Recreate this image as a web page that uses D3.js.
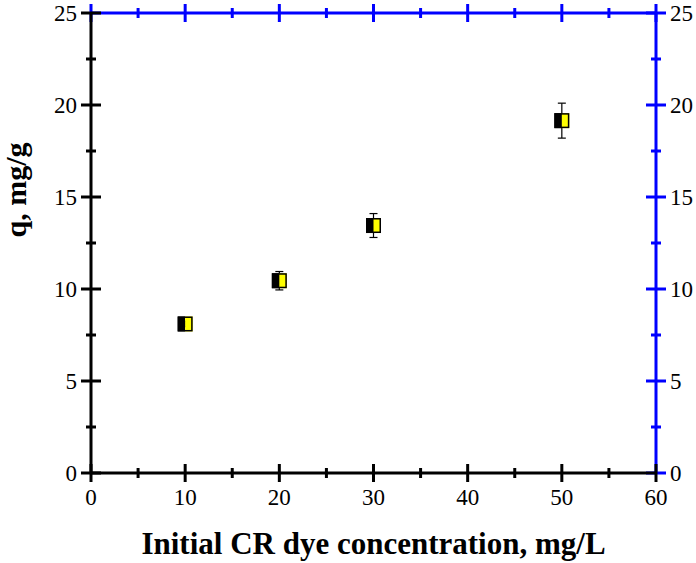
<!DOCTYPE html>
<html>
<head>
<meta charset="utf-8">
<script src="https://cdn.jsdelivr.net/npm/d3@7"></script>
<style>
  body { margin: 0; background: #fff; }
</style>
</head>
<body>
<script>
// Data
var concentration = [10, 20, 30, 50];
var qValues = [8.1, 10.45, 13.45, 19.15];
var qErrors = [0.15, 0.5, 0.65, 0.95];

var xTicks = [0, 10, 20, 30, 40, 50, 60];
var yTicks = [0, 5, 10, 15, 20, 25];

var W = 696, H = 563;
var margin = { top: 13, right: 40, bottom: 90, left: 91 };
var serif = "'Liberation Serif', 'Times New Roman', serif";

var x = d3.scaleLinear().domain([0, 60]).range([margin.left, W - margin.right]);
var y = d3.scaleLinear().domain([0, 25]).range([H - margin.bottom, margin.top]);

var svg = d3.select("body").append("svg")
  .attr("width", W)
  .attr("height", H)
  .attr("font-family", serif);

var blue = "#0000ff";

// Minor tick values
var xMinor = d3.range(5, 60, 10);
var yMinor = d3.range(2.5, 25, 5);

// horizontal axis with crossing ticks
function hAxis(yPos, color, labels) {
  var gA = svg.append("g").attr("transform", "translate(0," + yPos + ")");
  gA.append("line").attr("x1", x(0)).attr("x2", x(60)).attr("stroke", color).attr("stroke-width", 3);
  gA.selectAll(".maj").data(xTicks).enter().append("line")
    .attr("x1", d => x(d)).attr("x2", d => x(d)).attr("y1", -9).attr("y2", 9)
    .attr("stroke", color).attr("stroke-width", 3);
  gA.selectAll(".min").data(xMinor).enter().append("line")
    .attr("x1", d => x(d)).attr("x2", d => x(d)).attr("y1", -5).attr("y2", 5)
    .attr("stroke", color).attr("stroke-width", 3);
  if (labels) {
    gA.selectAll(".lab").data(xTicks).enter().append("text")
      .attr("x", d => x(d)).attr("y", 32)
      .attr("text-anchor", "middle").style("font-size", "23px")
      .text(d => d);
  }
}

// vertical axis with crossing ticks
function vAxis(xPos, color, side) {
  var gA = svg.append("g").attr("transform", "translate(" + xPos + ",0)");
  gA.append("line").attr("y1", y(0)).attr("y2", y(25)).attr("stroke", color).attr("stroke-width", 3);
  gA.selectAll(".maj").data(yTicks).enter().append("line")
    .attr("y1", d => y(d)).attr("y2", d => y(d)).attr("x1", -10).attr("x2", 10)
    .attr("stroke", color).attr("stroke-width", 3);
  gA.selectAll(".min").data(yMinor).enter().append("line")
    .attr("y1", d => y(d)).attr("y2", d => y(d)).attr("x1", -5).attr("x2", 5)
    .attr("stroke", color).attr("stroke-width", 3);
  gA.selectAll(".lab").data(yTicks).enter().append("text")
    .attr("x", side * 14).attr("y", d => y(d)).attr("dy", "0.35em")
    .attr("text-anchor", side < 0 ? "end" : "start").style("font-size", "23px")
    .text(d => d);
}

hAxis(y(25), blue, false);
vAxis(x(60), blue, 1);
hAxis(y(0), "#000", true);
vAxis(x(0), "#000", -1);

// ---- data points with error bars
var pts = concentration.map(function (c, i) {
  return { x: c, q: qValues[i], e: qErrors[i] };
});

var g = svg.append("g");
var cap = 4;
pts.forEach(function (d) {
  var cx = x(d.x);
  g.append("line").attr("x1", cx).attr("x2", cx)
    .attr("y1", y(d.q + d.e)).attr("y2", y(d.q - d.e))
    .attr("stroke", "#000").attr("stroke-width", 1.2);
  [d.q + d.e, d.q - d.e].forEach(function (v) {
    g.append("line").attr("x1", cx - cap).attr("x2", cx + cap)
      .attr("y1", y(v)).attr("y2", y(v))
      .attr("stroke", "#000").attr("stroke-width", 1.2);
  });
});

var s = 15;
var marks = g.selectAll(".pt").data(pts).enter().append("g")
  .attr("transform", d => "translate(" + x(d.x) + "," + y(d.q) + ")");
marks.append("rect")
  .attr("x", -s / 2).attr("y", -s / 2).attr("width", s / 2).attr("height", s)
  .attr("fill", "#000");
marks.append("rect")
  .attr("x", 0).attr("y", -s / 2).attr("width", s / 2).attr("height", s)
  .attr("fill", "#ffff00");
marks.append("rect")
  .attr("x", -s / 2 + 0.75).attr("y", -s / 2 + 0.75).attr("width", s - 1.5).attr("height", s - 1.5)
  .attr("fill", "none").attr("stroke", "#000").attr("stroke-width", 1.5);

// ---- axis titles
svg.append("text")
  .attr("x", (x(0) + x(60)) / 2).attr("y", 554)
  .attr("text-anchor", "middle")
  .style("font-size", "31px").style("font-weight", "bold")
  .text("Initial CR dye concentration, mg/L");

svg.append("text")
  .attr("transform", "translate(26,190) rotate(-90)")
  .attr("text-anchor", "middle")
  .style("font-size", "30px").style("font-weight", "bold")
  .text("q, mg/g");
</script>
</body>
</html>
